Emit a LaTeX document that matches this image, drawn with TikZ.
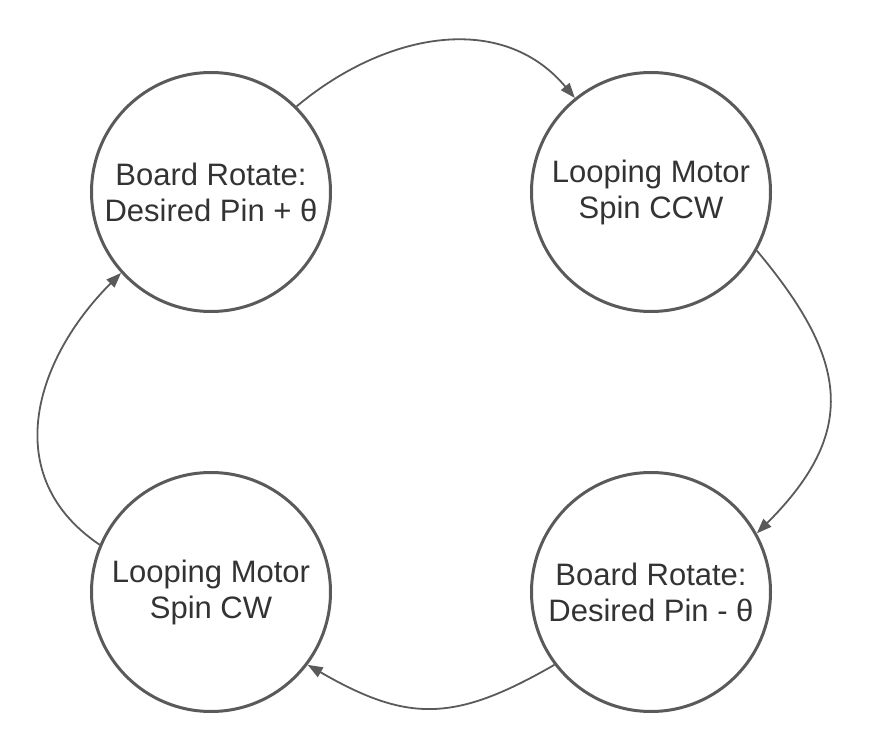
\documentclass[tikz,border=0pt]{standalone}
\usepackage{fontspec}
\setmainfont{Liberation Sans}
\usetikzlibrary{arrows.meta}
\definecolor{LineGray}{RGB}{90,90,90}
\definecolor{TextGray}{RGB}{51,51,51}

\begin{document}
\begin{tikzpicture}[x=1pt, y=-1pt]
	\tikzstyle{state} = [draw=LineGray, line width=3pt, circle, minimum size=239pt, inner sep=0pt, align=center, text=TextGray, font=\fontsize{31}{36}\selectfont]
	\tikzstyle{trans} = [draw=LineGray, line width=1.8pt, -{Triangle[length=15pt, width=11pt]}]
	\useasboundingbox (0,0) rectangle (871,754);

	\node[state] (brp) at (211,192) {Board Rotate:\\Desired Pin + θ};
	\node[state] (lccw) at (651,192) {Looping Motor\\Spin CCW};
	\node[state] (brm) at (651,592) {Board Rotate:\\Desired Pin - θ};
	\node[state] (lcw) at (211,592) {Looping Motor\\Spin CW};

	\draw[trans] (brp.45) to[out=40, in=130, looseness=1.05] (lccw.129);
	\draw[trans] (lccw.-29) to[out=-50, in=45, looseness=1.3] (brm.29);
	\draw[trans] (brm.217) to[out=210, in=-30, looseness=1.2] (lcw.-37);
	\draw[trans] (lcw.157) to[out=146, in=225, looseness=1.15] (brp.222);
\end{tikzpicture}
\end{document}
